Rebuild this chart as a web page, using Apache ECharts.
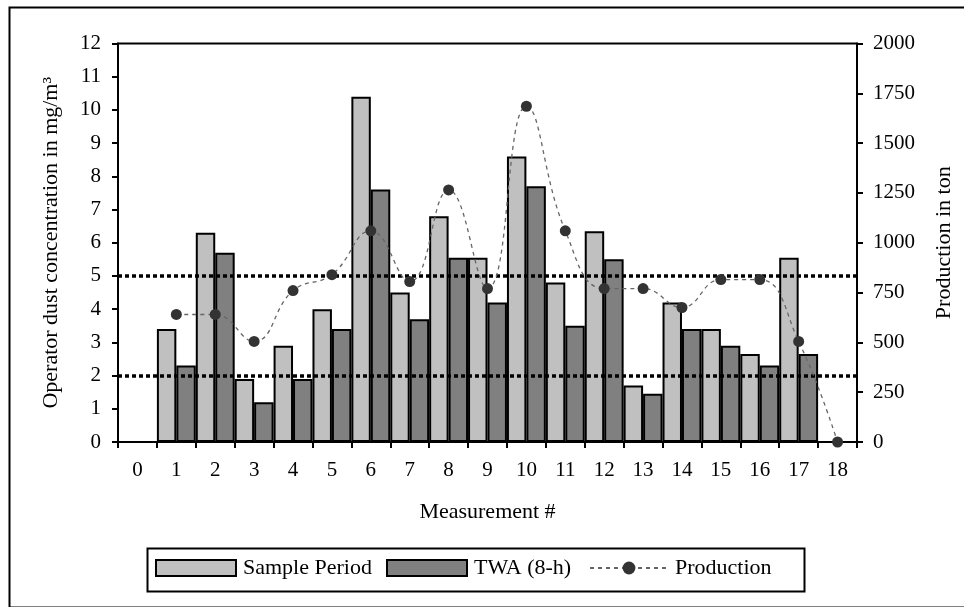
<!DOCTYPE html>
<html>
<head>
<meta charset="utf-8">
<script src="https://cdn.jsdelivr.net/npm/echarts@6/dist/echarts.min.js"></script>
<style>
html,body{margin:0;padding:0;background:#fff;}
#chart{width:964px;height:607px;}
</style>
</head>
<body>
<div id="chart"></div>
<script>
var categories = ['0','1','2','3','4','5','6','7','8','9','10','11','12','13','14','15','16','17','18'];
var samplePeriod = [null, 3.4, 6.3, 1.9, 2.9, 4.0, 10.4, 4.5, 6.8, 5.55, 8.6, 4.8, 6.35, 1.7, 4.2, 3.4, 2.65, 5.55, null];
var twa = [null, 2.3, 5.7, 1.2, 1.9, 3.4, 7.6, 3.7, 5.55, 4.2, 7.7, 3.5, 5.5, 1.45, 3.4, 2.9, 2.3, 2.65, null];
var production = [null, 640, 640, 505, 760, 840, 1060, 805, 1265, 770, 1685, 1060, 770, 770, 675, 815, 815, 505, 0];
var limitLines = [5, 2];
var seriesNames = ['Sample Period', 'TWA (8-h)', 'Production'];

var FONT = 'Liberation Serif';
var FS = 21;
var FS_NAME = 22;
var chart = echarts.init(document.getElementById('chart'), null, {renderer: 'canvas'});

function legendFor(name, left, width, icon) {
  var item = {name: name};
  if (icon) { item.icon = icon; }
  return {
    data: [item], left: left, top: 557, padding: 0,
    itemWidth: width, itemHeight: 16, itemGap: 0,
    textStyle: {fontFamily: FONT, fontSize: FS_NAME, color: '#000', padding: [0, 0, 0, 2]}
  };
}

var option = {
  animation: false,
  backgroundColor: '#fff',
  textStyle: {fontFamily: FONT, color: '#000'},
  graphic: [{
    type: 'rect', left: 7, top: 5, silent: true,
    shape: {width: 975, height: 600},
    style: {fill: 'none', stroke: '#000', lineWidth: 2}
  }, {
    type: 'rect', left: 145, top: 546, silent: true,
    shape: {width: 657, height: 43},
    style: {fill: 'none', stroke: '#000', lineWidth: 2}
  }],
  grid: {left: 118, right: 107, top: 43.5, bottom: 165, show: true, borderColor: '#000', borderWidth: 2, backgroundColor: 'transparent'},
  legend: [
    legendFor(seriesNames[0], 155, 80, 'rect'),
    legendFor(seriesNames[1], 386, 80, 'rect'),
    legendFor(seriesNames[2], 589, 78, null)
  ],
  xAxis: {
    type: 'category', data: categories,
    name: 'Measurement #', nameLocation: 'middle', nameGap: 59,
    nameTextStyle: {fontFamily: FONT, fontSize: FS_NAME, color: '#000'},
    axisLine: {lineStyle: {color: '#000', width: 2}},
    axisTick: {show: true, interval: 0, length: 6, lineStyle: {color: '#000', width: 2}},
    axisLabel: {interval: 0, margin: 18, fontFamily: FONT, fontSize: FS, color: '#000'}
  },
  yAxis: [{
    type: 'value', min: 0, max: 12, interval: 1, position: 'left',
    name: 'Operator dust concentration in mg/m\u00B3', nameLocation: 'middle', nameGap: 56,
    nameTextStyle: {fontFamily: FONT, fontSize: FS_NAME, color: '#000'},
    axisLine: {show: true, lineStyle: {color: '#000', width: 2}},
    axisTick: {show: true, length: 6, lineStyle: {color: '#000', width: 2}},
    axisLabel: {margin: 17, fontFamily: FONT, fontSize: FS, color: '#000'},
    splitLine: {show: false}
  }, {
    type: 'value', min: 0, max: 2000, interval: 250, position: 'right',
    name: 'Production in ton', nameLocation: 'middle', nameGap: 76,
    nameTextStyle: {fontFamily: FONT, fontSize: FS_NAME, color: '#000'},
    axisLine: {show: true, lineStyle: {color: '#000', width: 2}},
    axisTick: {show: true, length: 6, lineStyle: {color: '#000', width: 2}},
    axisLabel: {margin: 16, fontFamily: FONT, fontSize: FS, color: '#000',
      formatter: function (v) { return String(v); }},
    splitLine: {show: false}
  }],
  series: [{
    name: seriesNames[0], type: 'bar', yAxisIndex: 0,
    data: samplePeriod,
    barGap: '0%', barCategoryGap: '0%',
    itemStyle: {color: '#c0c0c0', borderColor: '#000', borderWidth: 2},
    markLine: {
      silent: true, symbol: 'none', label: {show: false},
      lineStyle: {color: '#000', width: 3.5, type: [4, 3]},
      data: limitLines.map(function (v) { return {yAxis: v}; })
    }
  }, {
    name: seriesNames[1], type: 'bar', yAxisIndex: 0,
    data: twa,
    barGap: '0%', barCategoryGap: '0%',
    itemStyle: {color: '#808080', borderColor: '#000', borderWidth: 2}
  }, {
    name: seriesNames[2], type: 'line', yAxisIndex: 1,
    data: production, smooth: 0.45, connectNulls: false,
    symbol: 'circle', symbolSize: 11,
    itemStyle: {color: '#333333'},
    lineStyle: {color: '#666666', width: 1.3, type: [4, 4]},
    z: 5
  }]
};
chart.setOption(option);
</script>
</body>
</html>
